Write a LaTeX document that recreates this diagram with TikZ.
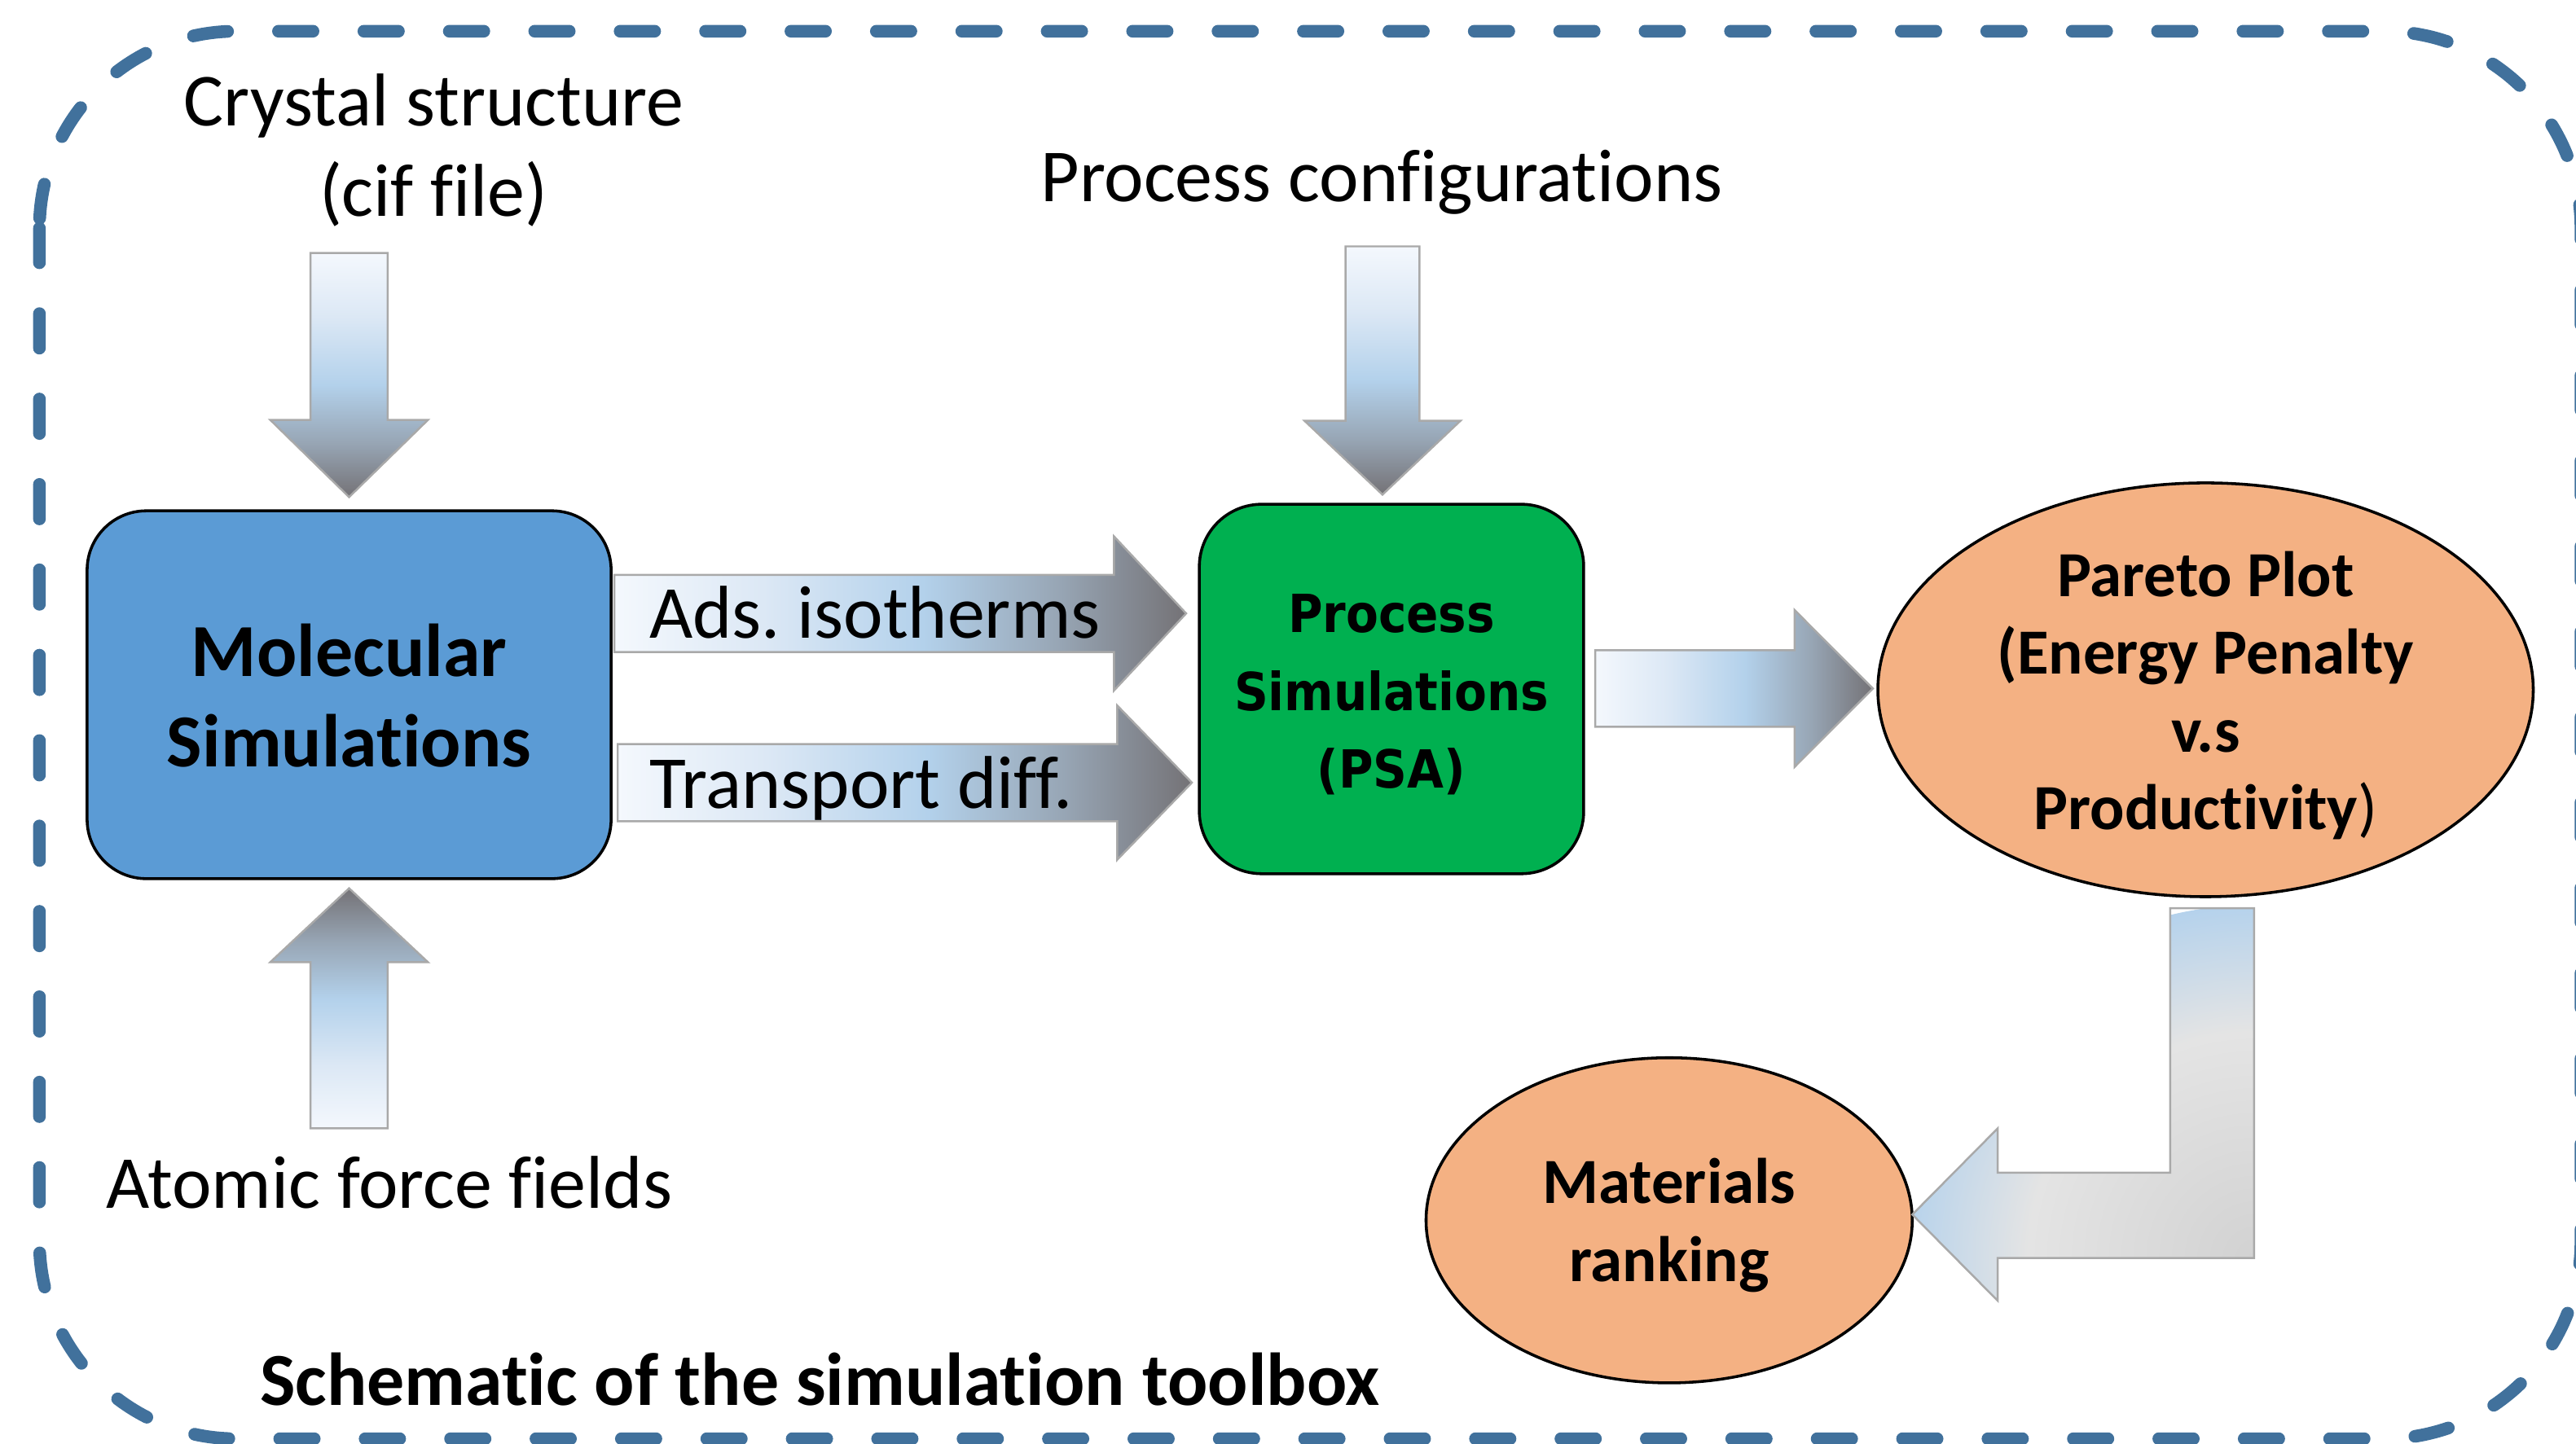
\documentclass[tikz,border=0pt]{standalone}
\usepackage{fontspec}
\setmainfont{Carlito}[Ligatures={NoCommon,NoContextual}, Contextuals=NoAlternate]
\newfontfamily\psafont{DejaVu Sans}[FakeStretch=0.9]
\usetikzlibrary{calc,shapes.geometric}
\frenchspacing

% palette
\definecolor{frameblue}{HTML}{41719C}
\definecolor{molblue}{HTML}{5B9BD5}
\definecolor{psagreen}{HTML}{00B050}
\definecolor{peach}{HTML}{F4B183}
\definecolor{arrowedge}{HTML}{A9A9A9}
\definecolor{afA}{HTML}{F4F8FD}
\definecolor{afB}{HTML}{DCE8F5}
\definecolor{afC}{HTML}{B3D1EB}
\definecolor{afD}{HTML}{97A5B4}
\definecolor{afE}{HTML}{747276}
\definecolor{bgA}{HTML}{D2D2D2}
\definecolor{bgB}{HTML}{DCDCDC}
\definecolor{bgC}{HTML}{E4E4E4}
\definecolor{bgD}{HTML}{B5D2EC}

% fill of the straight block arrows: pale at the tail, blue, then grey at the tip
\pgfdeclarehorizontalshading{arrowfade}{100bp}{color(0bp)=(afA); color(25bp)=(afA);
  color(38bp)=(afB); color(52bp)=(afC); color(64bp)=(afD); color(75bp)=(afE); color(100bp)=(afE)}
% fill of the bent arrow: grey near its corner, blue towards both ends
\pgfdeclareradialshading{bendfade}{\pgfpoint{0bp}{0bp}}{color(0bp)=(bgA); color(9bp)=(bgB);
  color(16bp)=(bgC); color(25bp)=(bgD); color(50bp)=(bgD)}

\tikzset{
  blockarrow/.style={draw=arrowedge, line width=0.7pt, shade, shading=arrowfade, line join=miter},
  plaintext/.style={font=\fontsize{25.95pt}{31.3pt}\selectfont, inner sep=0pt, align=center},
  bigbold/.style={font=\fontsize{25.95pt}{31.3pt}\selectfont\bfseries, inner sep=0pt, align=center},
  smallbold/.style={font=\fontsize{22.3pt}{26.9pt}\selectfont\bfseries, inner sep=0pt, align=center},
  psabold/.style={font=\psafont\fontsize{18.2pt}{27pt}\selectfont\bfseries, inner sep=0pt, align=center},
  roundbox/.style={draw=black, line width=1pt, rectangle},
  oval/.style={draw=black, line width=1pt, ellipse, fill=peach, inner sep=0pt},
}

% block arrow from tail #2 to tip #3: half shaft width #4, half head width #5, head length #6
\newcommand\blockarrow[6][]{%
  \coordinate (ba-h) at ($(#3)!{#6*0.02cm}!(#2)$);
  \path[blockarrow,#1]
    ($(#2)!{#4*0.02cm}!90:(#3)$) --
    ($(ba-h)!{#4*0.02cm}!90:(#3)$) --
    ($(ba-h)!{#5*0.02cm}!90:(#3)$) --
    (#3) --
    ($(ba-h)!{#5*0.02cm}!-90:(#3)$) --
    ($(ba-h)!{#4*0.02cm}!-90:(#3)$) --
    ($(#2)!{#4*0.02cm}!-90:(#3)$) -- cycle;
}

\begin{document}
\begin{tikzpicture}[x=0.02cm, y=-0.02cm]
\useasboundingbox (0,0) rectangle (1568,879);

% dashed outline of the toolbox
\draw[frameblue, line width=4.4pt, line cap=round, dash pattern=on 0.42cm off 0.62cm,
      rounded corners=2.4cm] (24,19) rectangle (1571,876);

% main blocks
\node[roundbox, fill=molblue, minimum width=6.38cm, minimum height=4.48cm,
      rounded corners=0.72cm] (mol) at (212.5,423) {};
\node[bigbold] (moltext) at ($(mol.center)+(0,0.5)$) {Molecular\\Simulations};
\node[roundbox, fill=psagreen, minimum width=4.68cm, minimum height=4.5cm,
      rounded corners=0.76cm] (psa) at (847,419.5) {};
\node[psabold] (psatext) at ($(psa.center)+(0,3.5)$) {Process\\Simulations\\(PSA)};
\node[oval, minimum width=7.98cm, minimum height=5.04cm] (pareto) at (1342.5,420) {};
\node[smallbold] (paretotext) at ($(pareto.center)+(0,3.5)$)
  {Pareto Plot\\(Energy Penalty\\v.s\\Productivity{\mdseries)}};
\node[oval, minimum width=5.92cm, minimum height=3.96cm] (mat) at (1016,743) {};
\node[smallbold] (mattext) at ($(mat.center)+(0,3)$) {Materials\\ranking};

% inputs and caption
\node[plaintext] (crystal) at (264,91.5) {Crystal structure\\(cif file)};
\node[plaintext] (procconf) at (841,111) {Process configurations};
\node[plaintext] (atomic) at (237,720) {Atomic force fields};
\node[bigbold] (caption) at (499,840) {Schematic of the simulation toolbox};

% arrow end points
\coordinate (cs-tail) at (212.5,154);
\coordinate (cs-tip) at ($(mol.north)+(0,-7.5)$);
\coordinate (ff-tail) at (212.5,687);
\coordinate (ff-tip) at ($(mol.south)+(0,5)$);
\coordinate (pc-tail) at (841.5,150);
\coordinate (pc-tip) at ($(psa.north)+(-5.5,-5)$);
\coordinate (ads-tail) at (374,373.5);
\coordinate (ads-tip) at (722,373.5);
\coordinate (td-tail) at (376,476.5);
\coordinate (td-tip) at (725.5,476.5);
\coordinate (pp-tail) at (971,419.2);
\coordinate (pp-tip) at (1140,419.2);

\blockarrow[shading angle=-90]{cs-tail}{cs-tip}{23.5}{48}{47}
\blockarrow[shading angle=90]{ff-tail}{ff-tip}{23.5}{48}{45}
\blockarrow[shading angle=-90]{pc-tail}{pc-tip}{22.5}{47.5}{45}
\blockarrow{ads-tail}{ads-tip}{23.5}{47}{44}
\blockarrow{td-tail}{td-tip}{23.5}{47}{45.5}
\blockarrow{pp-tail}{pp-tip}{23.3}{47.7}{47.6}

% bent arrow from the Pareto plot down to the ranking
\coordinate (bend-corner) at (1372,766);
\begin{scope}
  \clip (1321,553) -- (1372,553) -- (bend-corner) -- (1216,766) -- (1216,792)
        -- (1164,739.5) -- (1216,687) -- (1216,714) -- (1321,714) -- cycle;
  \shade[shading=bendfade] (bend-corner) circle[radius=4.3cm];
\end{scope}
\draw[draw=arrowedge, line width=0.7pt, line join=miter]
  (1321,553) -- (1372,553) -- (bend-corner) -- (1216,766) -- (1216,792)
  -- (1164,739.5) -- (1216,687) -- (1216,714) -- (1321,714) -- cycle;

% labels on the two transfer arrows
\node[plaintext, anchor=west] (adslabel) at (395,373) {Ads. isotherms};
\node[plaintext, anchor=west] (tdlabel) at (395,480) {Transport diff.};
\end{tikzpicture}
\end{document}
